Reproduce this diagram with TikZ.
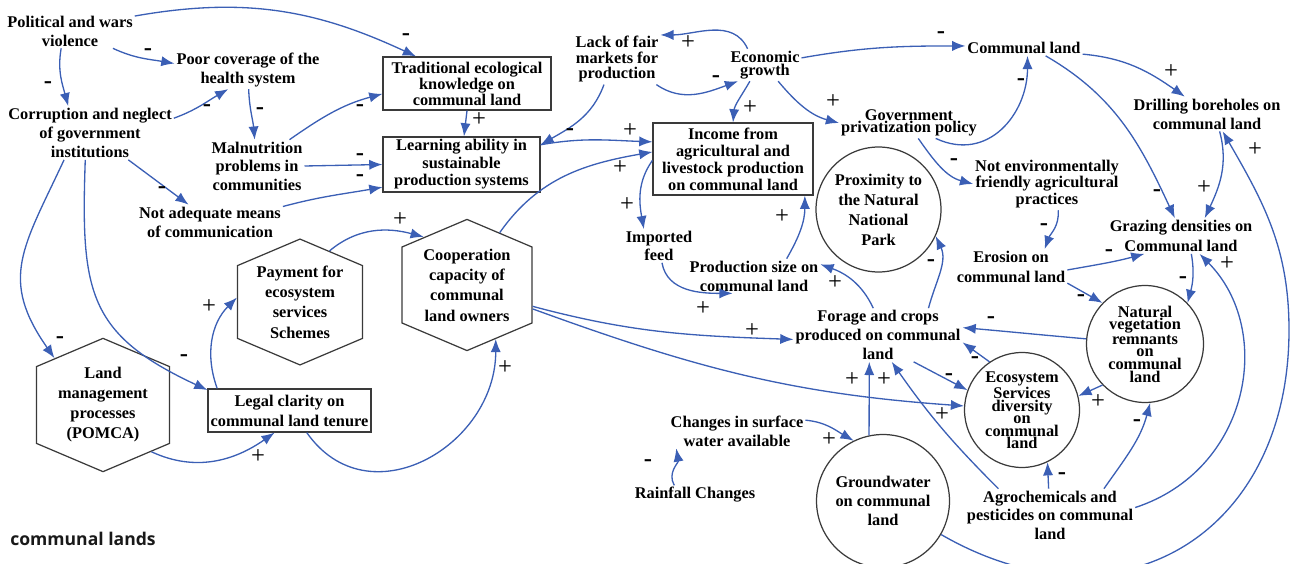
\documentclass[tikz,border=0pt]{standalone}
\usepackage{fontspec}
\setmainfont{Liberation Serif}
\newfontfamily\labelsans{Open Sans}
\usetikzlibrary{arrows.meta,shapes.symbols}
\definecolor{link-blue}{HTML}{3B5FB5}
\definecolor{frame-grey}{HTML}{3A3A3A}
\tikzset{
    x=0.02cm, y=0.02cm,
    leading/.style={font=\fontsize{9.3}{#1}\selectfont\bfseries},
    var/.style={align=center, inner sep=1pt, leading=10.8pt},
    boxvar/.style={var, draw=frame-grey, line width=0.7pt, inner sep=1pt},
    circvar/.style={var, circle, draw=frame-grey, line width=0.7pt, inner sep=0pt},
    hexvar/.style={var, signal, signal to=north and south, signal pointer angle=134,
        draw=frame-grey, line width=0.7pt, inner sep=0pt, leading=11.6pt},
    link/.style={draw=link-blue, line width=0.75pt, -{Latex[length=7.5pt,width=5.8pt]}},
    sgn/.style={inner sep=0pt, font=\fontsize{14}{14}\selectfont}
}

\begin{document}
\begin{tikzpicture}
    \useasboundingbox (0,0) rectangle (1291,-564);

    % left column
    \node[var] (pol) at (70,-31) {Political and wars\\violence};
    \node[var] (poor) at (248,-70) {Poor coverage of the\\health system};
    \node[var] (corr) at (90,-133) {Corruption and neglect\\of government\\institutions};
    \node[var, leading=10.5pt] (malnut) at (257,-166) {Malnutrition\\problems in\\communities};
    \node[var] (notadeq) at (210,-222) {Not adequate means\\of communication};
    \node[boxvar, leading=9.1pt, minimum width=3.36cm, minimum height=1.06cm] (trad) at (467,-83.5) {Traditional ecological\\knowledge on\\communal land};
    \node[boxvar, leading=10pt, minimum width=3.14cm, minimum height=1.1cm] (learn) at (461.5,-164.5) {Learning ability in\\sustainable\\production systems};
    \node[hexvar, minimum width=2.5cm, minimum height=2.14cm] (payment) at (300,-302) {Payment for\\ecosystem\\services\\Schemes};
    \node[hexvar, minimum width=2.6cm, minimum height=2.26cm] (coop) at (467,-285) {Cooperation\\capacity of\\communal\\land owners};
    \node[hexvar, leading=11.4pt, minimum width=2.66cm, minimum height=2.3cm] (landmgmt) at (103,-405) {Land\\management\\processes\\(POMCA)};
    \node[boxvar, leading=11.4pt, minimum width=3.26cm, minimum height=0.86cm] (legal) at (289.5,-410.5) {Legal clarity on\\communal land tenure};

    % middle
    \node[var, leading=9.1pt] (lack) at (617,-59) {Lack of fair\\markets for\\production};
    \node[var, leading=5.8pt] (econ) at (765,-65) {Economic\\growth};
    \node[boxvar, leading=9.7pt, minimum width=3.2cm, minimum height=1.44cm] (income) at (733,-159) {Income from\\agricultural and\\livestock production\\on communal land};
    \node[var, leading=10.2pt] (imported) at (659,-246) {Imported\\feed};
    \node[var] (prodsize) at (754,-276) {Production size on\\communal land};
    \node[circvar, leading=11.4pt, minimum size=2.5cm] (prox) at (878.5,-209.5) {Proximity to\\the Natural\\National\\Park};
    \node[var] (forage) at (878,-335) {Forage and crops\\produced on communal\\land};
    \node[var] (changes) at (737,-431) {Changes in surface\\water available};
    \node[var] (rainfall) at (695,-495) {Rainfall Changes};
    \node[circvar, minimum size=2.66cm] (groundwater) at (883,-501) {Groundwater\\on communal\\land};

    % right
    \node[var] (commland) at (1024,-48) {Communal land};
    \node[var, leading=7pt] (govpriv) at (909,-123) {Government\\privatization policy};
    \node[var] (drill) at (1207,-114) {Drilling boreholes on\\communal land};
    \node[var, leading=8pt] (notenv) at (1047,-184) {Not environmentally\\friendly agricultural\\practices};
    \node[var, leading=11.4pt] (grazing) at (1181,-236) {Grazing densities on\\Communal land};
    \node[var, leading=11.4pt] (erosion) at (1011,-267) {Erosion on\\communal land};
    \node[circvar, leading=7.2pt, minimum size=2.34cm] (natveg) at (1145,-344) {Natural\\vegetation\\remnants\\on\\communal\\land};
    \node[circvar, leading=7.1pt, minimum size=2.3cm] (ecosys) at (1022,-410) {Ecosystem\\Services\\diversity\\on\\communal\\land};
    \node[var, leading=10.5pt] (agro) at (1050,-515) {Agrochemicals and\\pesticides on communal\\land};

    \node[font=\labelsans\bfseries\fontsize{10}{12}\selectfont, text=black!90, inner sep=0pt] (note) at (83,-539) {communal lands};

    % links, left part
    \draw[link] (pol.13) to[out=10,in=155] (trad.152) node[sgn] at (406,-37) {\textbf{-}};
    \draw[link] (pol.-22) to[out=-25,in=170] (poor.175) node[sgn] at (148,-52) {\textbf{-}};
    \draw[link] (pol.-117) to[out=-100,in=105] (corr.129) node[sgn] at (48,-85) {\textbf{-}};
    \draw[link] (corr.10) to[out=20,in=-150] (poor.-136) node[sgn] at (207,-108) {\textbf{-}};
    \draw[link] (poor.-88) to[out=-88,in=95] (malnut.95) node[sgn] at (260,-111) {\textbf{-}};
    \draw[link] (corr.-35) -- (notadeq.141) node[sgn] at (162,-190) {\textbf{-}};
    \draw[link] (malnut.39) to[out=35,in=195] (trad.187) node[sgn] at (360,-108) {\textbf{-}};
    \draw[link] (malnut.east) -- (learn.west) node[sgn] at (360,-157) {\textbf{-}};
    \draw[link] (notadeq.12) to[out=15,in=190] (learn.196) node[sgn] at (360,-178) {\textbf{-}};
    \draw[link] (trad.south) -- (learn.85) node[sgn] at (479,-120) {+};
    \draw[link] (lack.-117) to[out=-110,in=30] (learn.14) node[sgn] at (570,-132) {\textbf{-}};
    \draw[link] (learn.14) to[out=10,in=178] (income.168) node[sgn] at (630,-131) {+};
    \draw[link] (coop.58) to[out=55,in=190] (income.175) node[sgn] at (620,-168) {+};
    \draw[link] (corr.-134) to[out=-115,in=125,looseness=1.25] (landmgmt.136) node[sgn] at (60,-340) {\textbf{-}};
    \draw[link] (corr.-100) to[out=-92,in=155,looseness=1.3] (legal.166) node[sgn] at (184,-358) {\textbf{-}};
    \draw[link] (legal.163) to[out=110,in=-135] (payment.176) node[sgn] at (209,-307) {+};
    \draw[link] (payment.60) to[out=40,in=165] (coop.132) node[sgn] at (400,-220) {+};
    \draw[link] (landmgmt.-44) to[out=-25,in=-145] (legal.-124) node[sgn] at (258,-457) {+};
    \draw[link] (legal.-52) to[out=-55,in=-90,looseness=1.3] (coop.-62) node[sgn] at (505,-368) {+};
    \draw[link] (coop.-20) to[out=-20,in=176] (ecosys.176) node[sgn] at (942,-415) {+};
    \draw[link] (coop.-18) to[out=-15,in=178] (forage.183) node[sgn] at (752,-331) {+};

    % links, middle part
    \draw[link] (econ.137) to[out=115,in=0] (lack.29) node[sgn] at (688,-43) {+};
    \draw[link] (lack.-33) to[out=-35,in=200] (econ.211) node[sgn] at (716,-79) {\textbf{-}};
    \draw[link] (econ.-133) to[out=-120,in=85] (income.north) node[sgn] at (750,-108) {+};
    \draw[link] (econ.11) to[out=10,in=180] (commland.178) node[sgn] at (941,-35) {\textbf{-}};
    \draw[link] (econ.-51) to[out=-50,in=165] (govpriv.west) node[sgn] at (833,-102) {+};
    \draw[link] (income.181) to[out=-125,in=100] (imported.132) node[sgn] at (627,-205) {+};
    \draw[link] (imported.-80) to[out=-80,in=180] (prodsize.219) node[sgn] at (703,-309) {+};
    \draw[link] (prodsize.28) to[out=60,in=-90] (income.-27) node[sgn] at (782,-217) {+};
    \draw[link] (forage.100) to[out=115,in=-20] (prodsize.10) node[sgn] at (835,-283) {+};
    \draw[link] (forage.28) to[out=75,in=-65] (prox.-25) node[sgn] at (931,-263) {\textbf{-}};
    \draw[link] (groundwater.102) -- (forage.-108) node[sgn] at (852,-380) {+};
    \draw[link] (agro.153) to[out=135,in=-55] (forage.-63) node[sgn] at (884,-380) {+};
    \draw[link] (changes.9) to[out=-5,in=150] (groundwater.116) node[sgn] at (829,-440) {+};
    \draw[link] (rainfall.155) to[out=120,in=-80] (changes.196) node[sgn] at (648,-463) {\textbf{-}};

    % links, right part
    \draw[link] (govpriv.-30) to[out=-25,in=-90,looseness=1.2] (commland.-66) node[sgn] at (1021,-82) {\textbf{-}};
    \draw[link] (govpriv.-59) to[out=-55,in=165] (notenv.west) node[sgn] at (954,-162) {\textbf{-}};
    \draw[link] (commland.-6) to[out=-5,in=145] (drill.142) node[sgn] at (1171,-72) {+};
    \draw[link] (commland.-20) to[out=-30,in=115] (grazing.109) node[sgn] at (1157,-193) {\textbf{-}};
    \draw[link] (drill.-54) to[out=-75,in=65] (grazing.37) node[sgn] at (1204,-188) {+};
    \draw[link] (notenv.-67) to[out=-85,in=70] (erosion.28) node[sgn] at (1044,-227) {\textbf{-}};
    \draw[link] (erosion.-3) to[out=10,in=195] (grazing.206) node[sgn] at (1109,-253) {\textbf{-}};
    \draw[link] (erosion.-16) -- (natveg.136) node[sgn] at (1081,-298) {\textbf{-}};
    \draw[link] (grazing.-60) to[out=-80,in=75] (natveg.44) node[sgn] at (1183,-280) {\textbf{-}};
    \draw[link] (natveg.175) to[out=175,in=-5] (forage.5) node[sgn] at (991,-320) {\textbf{-}};
    \draw[link] (ecosys.124) -- (forage.-5) node[sgn] at (975,-360) {\textbf{-}};
    \draw[link] (natveg.224) -- (ecosys.14) node[sgn] at (1098,-402) {+};
    \draw[link] (forage.-37) -- (ecosys.160) node[sgn] at (949,-377) {\textbf{-}};
    \draw[link] (agro.93) -- (ecosys.-64) node[sgn] at (1062,-476) {\textbf{-}};
    \draw[link] (agro.26) to[out=55,in=-105] (natveg.-85) node[sgn] at (1137,-423) {\textbf{-}};
    \draw[link] (agro.5) .. controls (1250,-470) and (1275,-330) .. (grazing.-44) node[sgn] at (1227,-264) {+};
    \draw[link] (groundwater.-30) to[out=-30,in=-90,looseness=1.3] (1289,-330) to[out=90,in=-60] (drill.-48) node[sgn] at (1255,-150) {+};
\end{tikzpicture}
\end{document}
